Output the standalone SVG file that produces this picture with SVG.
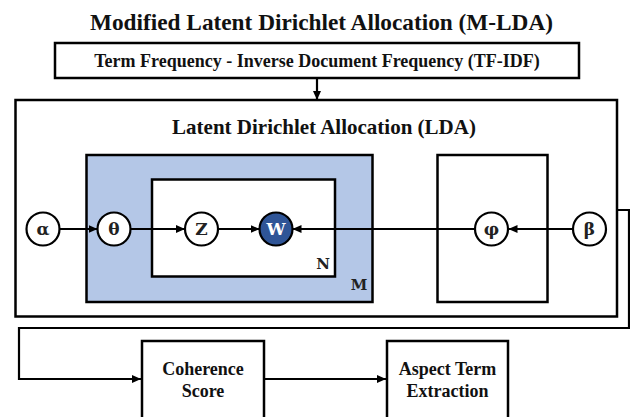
<svg xmlns="http://www.w3.org/2000/svg" width="630" height="417" viewBox="0 0 630 417">
<defs>
<marker id="ah" markerUnits="userSpaceOnUse" markerWidth="9" markerHeight="8" refX="9" refY="4" orient="auto">
<path d="M0,0 L9,4 L0,8 z" fill="#000"/>
</marker>
<style>
.box{fill:#fff;stroke:#000;stroke-width:2.5}
.plate{fill:none;stroke:#000;stroke-width:2.5}
.t{font-family:"Liberation Serif","Times New Roman",serif;font-weight:bold;fill:#111;text-anchor:middle}
.c{fill:#fff;stroke:#000;stroke-width:2.2}
.cl{font-family:"DejaVu Serif","Liberation Serif",serif;font-weight:bold;font-size:17px;fill:#222;text-anchor:middle}
.pl{font-family:"DejaVu Serif","Liberation Serif",serif;font-weight:bold;font-size:15px;fill:#222;text-anchor:middle}
.ln{fill:none;stroke:#000;stroke-width:2.2}
</style>
</defs>
<rect width="630" height="417" fill="#fff"/>
<text class="t" x="321.5" y="30" font-size="23.5" textLength="463" lengthAdjust="spacingAndGlyphs">Modified Latent Dirichlet Allocation (M-LDA)</text>

<g id="tfidf">
<rect class="box" x="55" y="43" width="524" height="35"/>
<text class="t" x="317" y="67" font-size="18">Term Frequency - Inverse Document Frequency (TF-IDF)</text>
</g>

<g id="lda">
<rect class="box" x="15.5" y="100" width="601.5" height="216.5"/>
<text class="t" x="324" y="134" font-size="21">Latent Dirichlet Allocation (LDA)</text>
</g>

<g id="plate-M">
<rect x="86.5" y="155" width="286" height="147" fill="#B4C7E7" stroke="#000" stroke-width="2.5"/>
<text class="pl" x="359" y="290">M</text>
</g>
<g id="plate-N">
<rect class="box" x="152" y="179.5" width="183" height="97"/>
<text class="pl" x="323" y="269">N</text>
</g>
<g id="plate-K">
<rect class="plate" x="437.5" y="155" width="110" height="147"/>
</g>

<g id="connectors">
<line class="ln" x1="317" y1="78" x2="317" y2="100" marker-end="url(#ah)"/>
<line class="ln" x1="60" y1="229" x2="97.5" y2="229" marker-end="url(#ah)"/>
<line class="ln" x1="131" y1="229" x2="185" y2="229" marker-end="url(#ah)"/>
<line class="ln" x1="218" y1="229" x2="259.5" y2="229" marker-end="url(#ah)"/>
<line class="ln" x1="475" y1="229" x2="292.5" y2="229" marker-end="url(#ah)"/>
<line class="ln" x1="573" y1="229" x2="508.5" y2="229" marker-end="url(#ah)"/>
<path class="ln" d="M617,210 H629 V328 H19 V379 H141" marker-end="url(#ah)"/>
<line class="ln" x1="264" y1="379" x2="386" y2="379" marker-end="url(#ah)"/>
</g>

<g id="alpha"><circle class="c" cx="43" cy="229" r="16.5"/><text class="cl" x="43" y="235">α</text></g>
<g id="theta"><circle class="c" cx="114" cy="229" r="16.5"/><text class="cl" x="114" y="235">θ</text></g>
<g id="z"><circle class="c" cx="201.5" cy="229" r="16.5"/><text class="cl" x="201.5" y="235">Z</text></g>
<g id="w"><circle cx="276" cy="229" r="16.5" fill="#2F5597" stroke="#000" stroke-width="2.2"/><text class="cl" x="276" y="235" style="fill:#fff">W</text></g>
<g id="phi"><circle class="c" cx="491.5" cy="229" r="16.5"/><text class="cl" x="491.5" y="235">φ</text></g>
<g id="beta"><circle class="c" cx="589.5" cy="229" r="16.5"/><text class="cl" x="589.5" y="235">β</text></g>

<g id="coherence">
<rect class="box" x="142" y="341" width="122" height="80"/>
<text class="t" x="203" y="375" font-size="18">Coherence</text>
<text class="t" x="203" y="397" font-size="18">Score</text>
</g>
<g id="aspect">
<rect class="box" x="387" y="341" width="121" height="80"/>
<text class="t" x="447.5" y="375" font-size="18">Aspect Term</text>
<text class="t" x="447.5" y="397" font-size="18">Extraction</text>
</g>
</svg>
